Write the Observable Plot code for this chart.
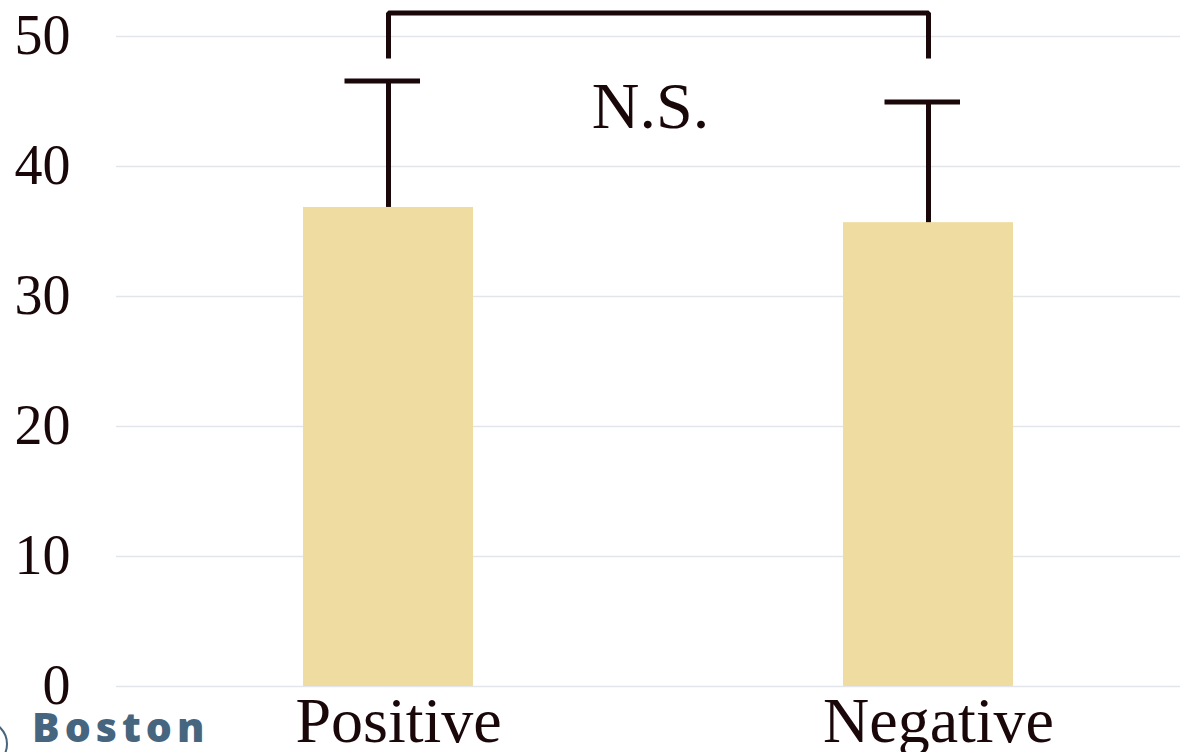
<!DOCTYPE html>
<html>
<head>
<meta charset="utf-8">
<script src="https://cdn.jsdelivr.net/npm/d3@7"></script>
<script src="https://cdn.jsdelivr.net/npm/@observablehq/plot@0.6"></script>
<style>
  html, body { margin: 0; padding: 0; background: #fff; width: 1180px; height: 752px; overflow: hidden; }
  #wrap { position: relative; width: 1180px; height: 752px; }
  #brand { position: absolute; left: 32px; top: 711px; font-family: "Open Sans", sans-serif; font-weight: 800;
           font-size: 41px; letter-spacing: 5px; color: #46657e; line-height: 30px; height: 30px; }
  #logo { position: absolute; left: -40px; top: 720px; width: 48px; height: 48px; border-radius: 50%;
          border: 2px solid #46657e; box-sizing: border-box; }
</style>
</head>
<body>
<div id="wrap">
  <div id="chart"></div>
  <div id="logo"></div>
  <div id="brand">Boston</div>
</div>
<script>
// Data
const groups = ["Positive", "Negative"];
const means = [36.85, 35.68];
const errors = [9.73, 9.29];
const yTicks = [0, 10, 20, 30, 40, 50];
const bracketGroups = ["Positive", "Positive", "Negative", "Negative"];
const bracketValues = [48.5, 51.8, 51.8, 48.5];
const sigLabel = ["N.S."];
const sigValue = [43.0];

const data = groups.map((g, i) => ({group: g, mean: means[i], upper: means[i] + errors[i]}));
const bracket = bracketGroups.map((g, i) => ({group: g, y: bracketValues[i]}));
const sig = sigLabel.map((t, i) => ({text: t, y: sigValue[i]}));

const ink = "#1a0709";
const serif = "'Liberation Serif', 'Times New Roman', serif";

const chart = Plot.plot({
  width: 1180,
  height: 752,
  marginTop: 36,
  marginBottom: 66,
  marginLeft: 116,
  marginRight: 0,
  style: {fontFamily: serif, background: "#fff", overflow: "visible"},
  x: {type: "band", domain: groups, paddingInner: 0.686, paddingOuter: 0.3264, align: 0.527, label: null},
  y: {domain: [0, 50], label: null},
  marks: [
    Plot.gridY(yTicks, {stroke: "#e2e6ea", strokeOpacity: 1, strokeWidth: 1.6}),
    Plot.axisY({ticks: yTicks, tickSize: 0, tickPadding: 46, fontSize: 56, fill: ink, label: null, fontFamily: serif}),
    Plot.axisX({tickSize: 0, tickPadding: 10, fontSize: 64, fill: ink, label: null, dx: 10, fontFamily: serif}),
    Plot.barY(data, {x: "group", y: "mean", fill: "#eedca0"}),
    Plot.ruleX(data, {x: "group", y1: "mean", y2: "upper", stroke: ink, strokeWidth: 5}),
    Plot.tickY(data, {x: "group", y: "upper", stroke: ink, strokeWidth: 5, insetLeft: 41.5, insetRight: 53}),
    Plot.line(bracket, {x: "group", y: "y", stroke: ink, strokeWidth: 5, strokeLinejoin: "miter", strokeLinecap: "square"}),
    Plot.text(sig, {y: "y", text: "text", frameAnchor: "middle", lineAnchor: "bottom", textAnchor: "middle",
                    fontSize: 66, fill: ink, fontFamily: serif, dx: 2})
  ]
});
document.getElementById("chart").appendChild(chart);
</script>
</body>
</html>
